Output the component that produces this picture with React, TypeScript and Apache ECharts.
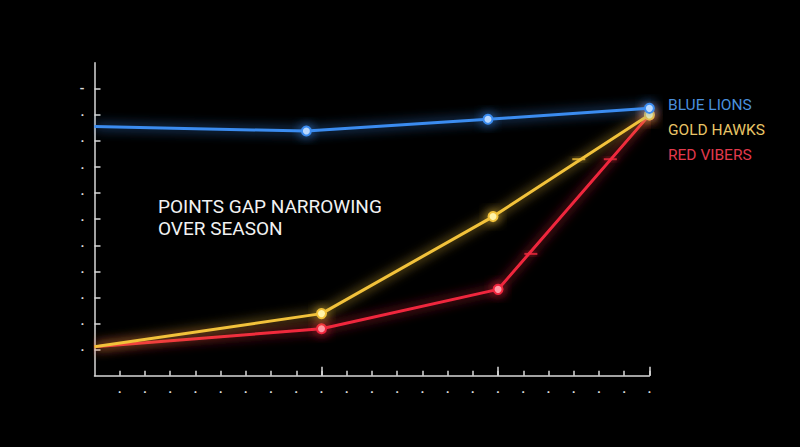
import React, { useEffect, useRef } from 'react';
import * as echarts from 'echarts';

// week index on the x axis, points on the y axis
const blueX = [0, 8.4, 15.6, 22];
const blueY = [9.55, 9.38, 9.83, 10.25];
const goldX = [0, 9, 15.8, 22];
const goldY = [1.11, 2.38, 6.1, 10.0];
const redX = [0, 9, 16, 22];
const redY = [1.11, 1.8, 3.31, 10.0];

// little dash glitches sitting on the lines
const goldDashX = [19.2];
const goldDashY = [8.3];
const redDashX = [20.45, 17.3];
const redDashY = [8.3, 4.67];

const seriesNames = ['BLUE LIONS', 'GOLD HAWKS', 'RED VIBERS'];
const seriesColors = ['#3b8cf0', '#f2c23a', '#f0283e'];
const markerFills = ['#b9d8ff', '#fff3a8', '#ff9aa6'];
const legendColors = ['#4a8fdc', '#e8c466', '#e2394c'];

const majorTicks = [9, 16, 22];
const titleLines = ['POINTS GAP NARROWING', 'OVER SEASON'];

const zip = (xs: number[], ys: number[]) => xs.map((x, i) => [x, ys[i]]);

const App: React.FC = () => {
  const chartRef = useRef<HTMLDivElement>(null);

  useEffect(() => {
    if (!chartRef.current) return;
    const chart = echarts.init(chartRef.current, null, { renderer: 'svg' });

    const lineSeries = [zip(blueX, blueY), zip(goldX, goldY), zip(redX, redY)].map((data, i) => ({
      name: seriesNames[i],
      type: 'line',
      data,
      // no dot where the lines leave the axis
      symbol: (_v: any, p: any) => (p.dataIndex === 0 ? 'none' : 'circle'),
      symbolSize: 9,
      z: 3 - i + 2,
      lineStyle: {
        color: seriesColors[i],
        width: 3,
        shadowBlur: 12,
        shadowColor: seriesColors[i]
      },
      itemStyle: {
        color: markerFills[i],
        borderColor: seriesColors[i],
        borderWidth: 2,
        shadowBlur: 12,
        shadowColor: seriesColors[i]
      }
    }));

    const dashSeries = [
      { data: zip(goldDashX, goldDashY), color: seriesColors[1] },
      { data: zip(redDashX, redDashY), color: seriesColors[2] }
    ].map(d => ({
      type: 'scatter',
      data: d.data,
      symbol: 'rect',
      symbolSize: [13, 2],
      silent: true,
      z: 6,
      itemStyle: { color: d.color, shadowBlur: 6, shadowColor: d.color }
    }));

    chart.setOption({
      animation: false,
      backgroundColor: '#000000',
      textStyle: { fontFamily: 'Roboto' },
      grid: { left: 94.5, right: 150.6, top: 62.7, bottom: 71.3 },
      legend: {
        orient: 'vertical',
        left: 658,
        top: 92,
        icon: 'none',
        itemWidth: 0,
        itemHeight: 14,
        itemGap: 9.2,
        selectedMode: false,
        data: seriesNames.map((name, i) => ({
          name,
          textStyle: { color: legendColors[i], fontSize: 15.5, fontFamily: 'Roboto' }
        }))
      },
      xAxis: [
        {
          type: 'value',
          min: 0,
          max: 22,
          interval: 1,
          splitLine: { show: false },
          axisLine: { lineStyle: { color: '#d8d8d8', width: 1.5 } },
          axisTick: { inside: true, length: 5, lineStyle: { color: '#d8d8d8', width: 1.5 } },
          axisLabel: {
            showMinLabel: false,
            formatter: () => '·',
            color: '#dcdcdc',
            fontSize: 13,
            fontWeight: 'bold',
            margin: 9
          }
        },
        {
          type: 'value',
          min: 0,
          max: 22,
          position: 'bottom',
          splitLine: { show: false },
          axisLine: { show: false },
          axisTick: {
            inside: true,
            length: 9,
            customValues: majorTicks,
            lineStyle: { color: '#d8d8d8', width: 1.5 }
          },
          axisLabel: { show: false }
        }
      ],
      yAxis: {
        type: 'value',
        min: 0,
        max: 12,
        interval: 1,
        splitLine: { show: false },
        axisLine: { show: true, lineStyle: { color: '#d8d8d8', width: 1.5 } },
        axisTick: { show: true, inside: true, length: 6, lineStyle: { color: '#d8d8d8', width: 1.5 } },
        axisLabel: {
          showMinLabel: false,
          showMaxLabel: false,
          formatter: (v: number) => (v === 11 ? '-' : '·'),
          color: '#dcdcdc',
          fontSize: 13,
          fontWeight: 'bold',
          margin: 10
        }
      },
      graphic: [
        {
          type: 'text',
          left: 158,
          top: 195,
          style: {
            text: titleLines.join('\n'),
            fill: '#f2f2f2',
            fontFamily: 'Roboto',
            fontSize: 19,
            lineHeight: 22
          }
        }
      ],
      series: [...lineSeries, ...dashSeries]
    });

    return () => {
      chart.dispose();
    };
  }, []);

  return (
    <div
      ref={chartRef}
      style={{ position: 'absolute', left: 0, top: 0, width: 800, height: 447 }}
    />
  );
};

export default App;
